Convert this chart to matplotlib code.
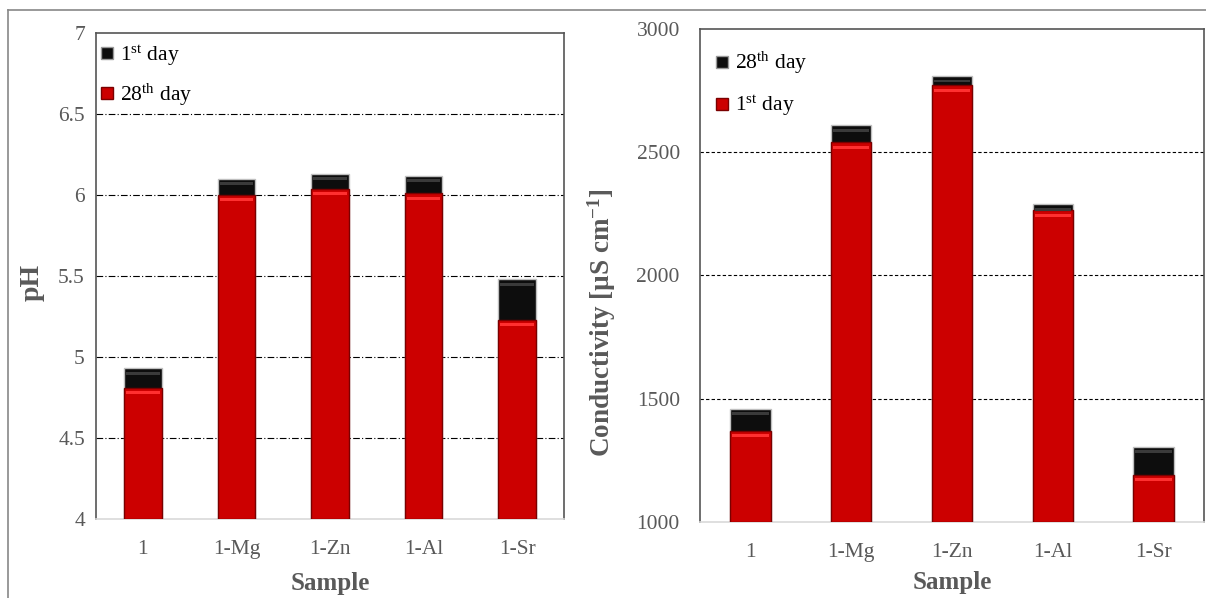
import matplotlib
matplotlib.use("Agg")
import matplotlib.pyplot as plt
from matplotlib.lines import Line2D
import numpy as np

plt.rcParams['font.family'] = ['Liberation Serif', 'DejaVu Serif']
plt.rcParams['mathtext.fontset'] = 'custom'
plt.rcParams['mathtext.rm'] = 'Liberation Serif'
plt.rcParams['mathtext.it'] = 'Liberation Serif:italic'
plt.rcParams['mathtext.bf'] = 'Liberation Serif:bold'

samples = ['1', '1-Mg', '1-Zn', '1-Al', '1-Sr']

# pH values
ph_day1 = [4.93, 6.10, 6.13, 6.12, 5.48]
ph_day28 = [4.81, 6.00, 6.04, 6.01, 5.23]

# conductivity values [uS/cm]
cond_day1 = [1370, 2541, 2772, 2264, 1191]
cond_day28 = [1459, 2610, 2809, 2289, 1305]

RED = '#cc0000'
BLACK = '#0d0d0d'
GRAY = '#595959'


def glossy_bars(ax, x, tops, base, color, hi, edge, span):
    # body of the bar
    ax.bar(x, np.array(tops) - base, bottom=base, width=0.4, color=color,
           edgecolor=edge, linewidth=1.0, zorder=3)
    # light band near the top for the glossy look
    h = span * 0.006
    ax.bar(x, [h] * len(x), bottom=np.array(tops) - span * 0.013, width=0.36,
           color=hi, linewidth=0, zorder=4)


def style_axes(ax, ymin, ymax, yticks, ls):
    ax.set_ylim(ymin, ymax)
    ax.set_xlim(-0.5, len(samples) - 0.5)
    ax.set_yticks(yticks)
    ax.set_xticks(np.arange(len(samples)))
    ax.set_xticklabels(samples)
    for yv in yticks[1:-1]:
        ax.axhline(yv, color='black', lw=0.8, ls=ls, zorder=1)
    for s in ['left', 'top', 'right']:
        ax.spines[s].set_color('#555555')
        ax.spines[s].set_linewidth(1.2)
    ax.spines['bottom'].set_color('#d9d9d9')
    ax.spines['bottom'].set_linewidth(1.2)
    ax.tick_params(length=0, labelsize=15.5, colors=GRAY)
    ax.tick_params(axis='x', pad=15)
    ax.set_xlabel('Sample', fontsize=18, fontweight='bold', color=GRAY,
                  va='top')


def legend_handles():
    return [Line2D([], [], ls='none', marker='s', ms=8, mfc=BLACK, mec='#999999'),
            Line2D([], [], ls='none', marker='s', ms=8, mfc=RED, mec='#7a0000')]


fig = plt.figure(figsize=(12.06, 5.98), dpi=100)
x = np.arange(len(samples))

# left panel: pH
ax1 = fig.add_axes([0.0796, 0.1321, 0.388, 0.8127])
style_axes(ax1, 4, 7, [4, 4.5, 5, 5.5, 6, 6.5, 7], (0, (6, 2, 1, 2)))
glossy_bars(ax1, x, ph_day1, 4, BLACK, '#3a3a3a', '#bfbfbf', 3)
glossy_bars(ax1, x, ph_day28, 4, RED, '#ff3030', '#7a0000', 3)
ax1.set_yticklabels(['4', '4.5', '5', '5.5', '6', '6.5', '7'])
ax1.tick_params(axis='y', pad=8)
ax1.set_ylabel('pH', fontsize=20, fontweight='bold', color=GRAY)
ax1.yaxis.set_label_coords(-0.109, 0.486)
ax1.xaxis.set_label_coords(0.5, -0.11)
ax1.legend(legend_handles(), ['1$^{\\mathrm{st}}$ day', '28$^{\\mathrm{th}}$ day'],
           loc='upper left', bbox_to_anchor=(0.0, 0.979), frameon=False,
           fontsize=15.5, handletextpad=0.1, labelspacing=0.65,
           borderaxespad=0, borderpad=0, handlelength=1.0)

# right panel: conductivity
ax2 = fig.add_axes([0.5804, 0.1271, 0.4179, 0.8244])
style_axes(ax2, 1000, 3000, [1000, 1500, 2000, 2500, 3000], (0, (3, 2)))
glossy_bars(ax2, x, cond_day28, 1000, BLACK, '#3a3a3a', '#bfbfbf', 2000)
glossy_bars(ax2, x, cond_day1, 1000, RED, '#ff3030', '#7a0000', 2000)
ax2.tick_params(axis='y', pad=14.5)
ax2.set_ylabel('Conductivity [µS cm$^{\\mathbf{-1}}$]', fontsize=19.5,
               fontweight='bold', color=GRAY)
ax2.yaxis.set_label_coords(-0.163, 0.405)
ax2.xaxis.set_label_coords(0.5, -0.1)
ax2.legend(legend_handles(), ['28$^{\\mathrm{th}}$ day', '1$^{\\mathrm{st}}$ day'],
           loc='upper left', bbox_to_anchor=(0.023, 0.957), frameon=False,
           fontsize=15.5, handletextpad=0.1, labelspacing=0.8,
           borderaxespad=0, borderpad=0, handlelength=1.0)

# outer frame lines (top and left)
fig.add_artist(Line2D([8 / 1206, 1], [1 - 10 / 598, 1 - 10 / 598],
                      color='#888888', lw=1.2, transform=fig.transFigure))
fig.add_artist(Line2D([8 / 1206, 8 / 1206], [0, 1 - 10 / 598],
                      color='#888888', lw=1.2, transform=fig.transFigure))

fig.savefig('out.png', dpi=100)
